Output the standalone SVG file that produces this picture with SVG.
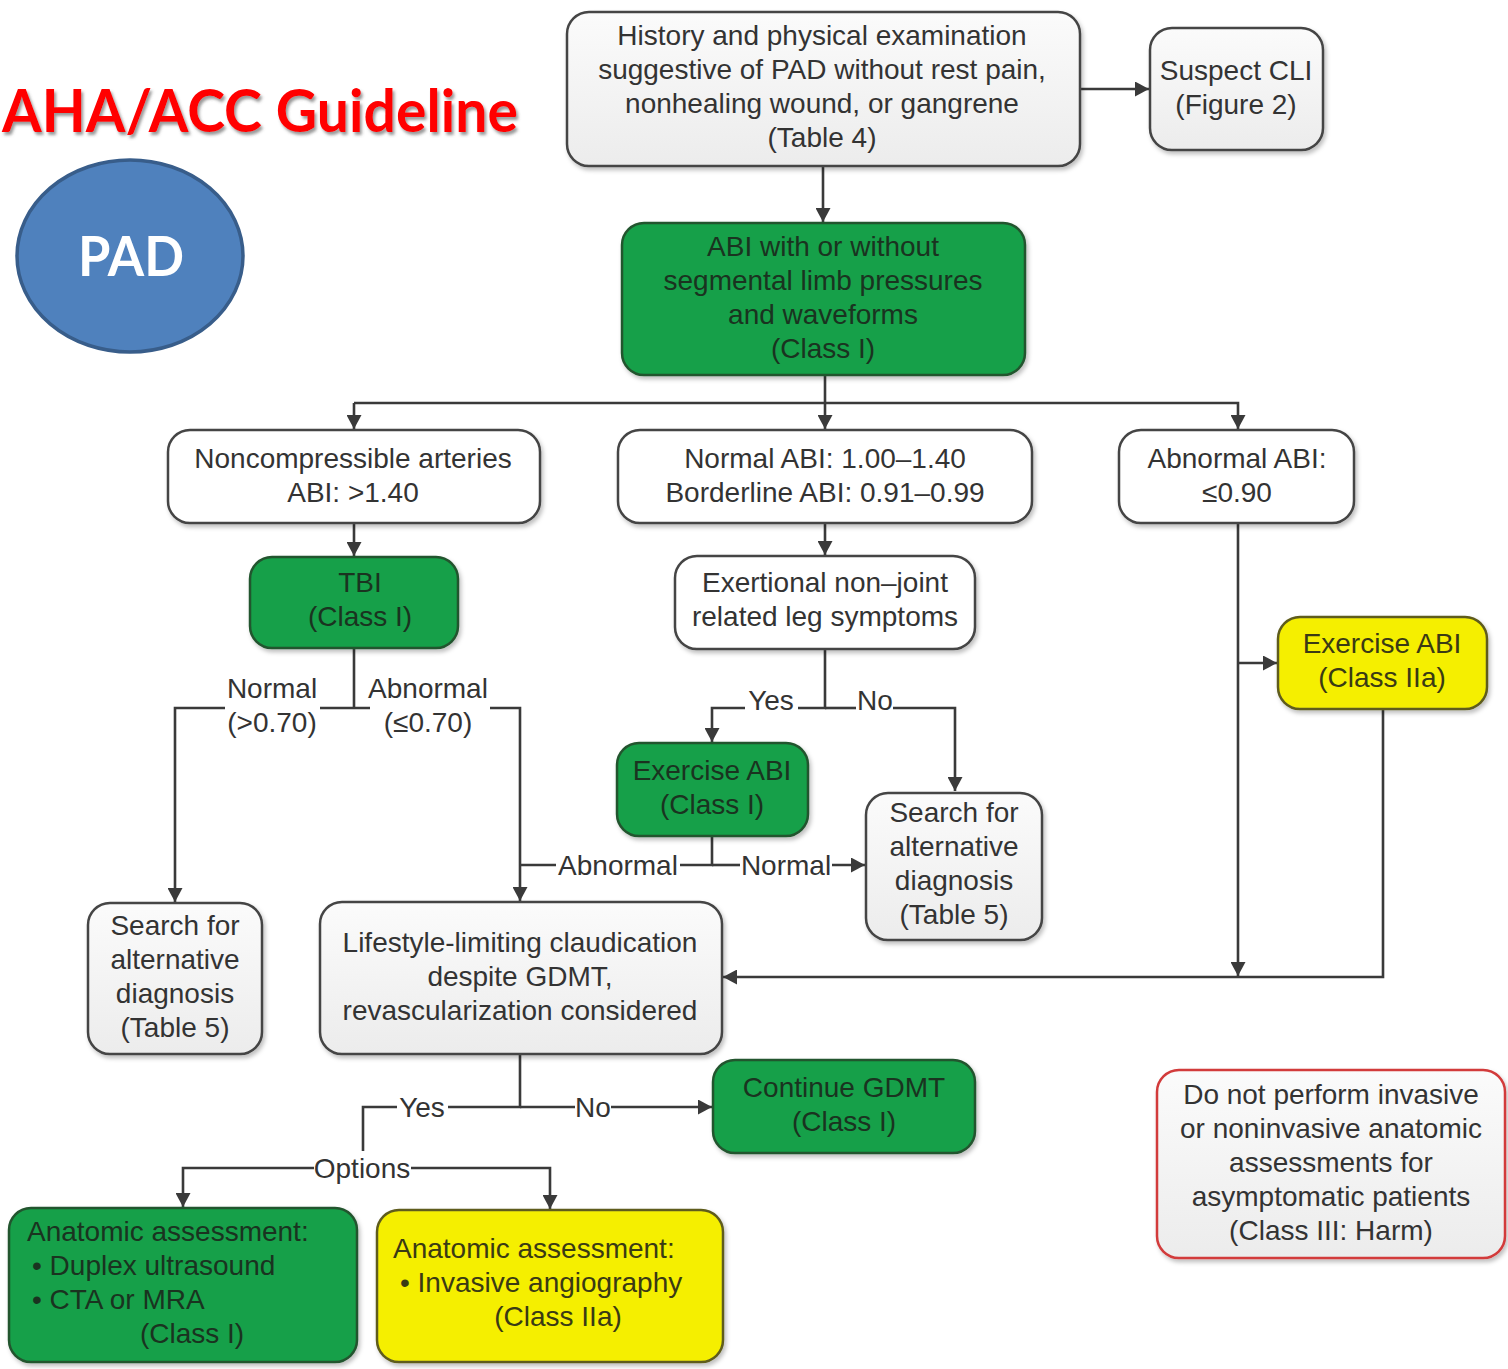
<svg xmlns="http://www.w3.org/2000/svg" width="1508" height="1369" viewBox="0 0 1508 1369">
  <style>
    .t { font-family: "Liberation Sans", Arial, sans-serif; font-size: 28px; fill: #333; text-anchor: middle; }
    .tl { font-family: "Liberation Sans", Arial, sans-serif; font-size: 28px; text-anchor: start; }
    .tg { fill: #1a3320; }
    .ty { fill: #3a3a14; }
    .lbl { font-family: "Liberation Sans", Arial, sans-serif; font-size: 28px; fill: #333; text-anchor: middle; }
    .box { stroke: #444; stroke-width: 2.5; filter: url(#shadow); }
    .white { fill: #ffffff; }
    .gray { fill: url(#grayGrad); }
    .green { fill: #15a048; stroke: #24542f; }
    .yellow { fill: #f5ef00; stroke: #5e5c1e; }
    .red { fill: url(#grayGrad); stroke: #d23a3a; }
    .conn path { fill: none; stroke: #3a3a3a; stroke-width: 2.6; }
    .arr { marker-end: url(#arrow); }
  </style>
  <defs>
    <linearGradient id="grayGrad" x1="0" y1="0" x2="0" y2="1">
      <stop offset="0" stop-color="#fbfbfb"/>
      <stop offset="1" stop-color="#ececec"/>
    </linearGradient>
    <filter id="shadow" x="-10%" y="-10%" width="120%" height="130%">
      <feDropShadow dx="2" dy="3" stdDeviation="2" flood-color="#000" flood-opacity="0.25"/>
    </filter>
    <filter id="titleShadow" x="-5%" y="-20%" width="110%" height="150%">
      <feDropShadow dx="2" dy="3" stdDeviation="1.5" flood-color="#555" flood-opacity="0.6"/>
    </filter>
    <marker id="arrow" markerUnits="userSpaceOnUse" markerWidth="15" markerHeight="15" refX="14" refY="7.5" orient="auto">
      <path d="M0,0 L14,7.5 L0,15 z" fill="#3a3a3a"/>
    </marker>
  </defs>

  <rect width="1508" height="1369" fill="#ffffff"/>

  <!-- heading and badge -->
  <g id="title">
    <text x="2" y="132" font-family="Lato, 'Open Sans', sans-serif" font-weight="700" font-size="60" fill="#ff0000" textLength="516" lengthAdjust="spacingAndGlyphs" filter="url(#titleShadow)">AHA/ACC Guideline</text>
  </g>
  <g id="pad-badge">
    <ellipse cx="130" cy="256" rx="113" ry="96" fill="#4f81bd" stroke="#385d8a" stroke-width="3.5"/>
    <text x="131" y="276" font-family="Lato, 'Open Sans', sans-serif" font-weight="700" font-size="56" fill="#ffffff" text-anchor="middle" textLength="106" lengthAdjust="spacingAndGlyphs">PAD</text>
  </g>

  <!-- connectors -->
  <g id="connectors" class="conn">
    <path class="arr" d="M1080,89 H1149"/>
    <path class="arr" d="M823,166 V222"/>
    <path class="arr" d="M825,375 V429"/>
    <path class="arr" d="M354,403 V429"/>
    <path class="arr" d="M354,403 H1238 V429"/>
    <path class="arr" d="M354,523 V556"/>
    <!-- TBI outcomes -->
    <path d="M354,648 V708 M320,708 H370"/>
    <path class="arr" d="M225,708 H175 V902"/>
    <path class="arr" d="M490,708 H520 V901"/>
    <!-- normal / borderline ABI -->
    <path class="arr" d="M825,523 V555"/>
    <path d="M825,649 V708 H798"/>
    <path class="arr" d="M745,708 H712 V742"/>
    <path d="M825,708 H856"/>
    <path class="arr" d="M893,708 H955 V791"/>
    <path d="M712,836 V865 H680 M556,865 H520"/>
    <path d="M712,865 H740"/>
    <path class="arr" d="M832,865 H865"/>
    <!-- abnormal ABI -->
    <path class="arr" d="M1238,523 V976"/>
    <path class="arr" d="M1238,663 H1277"/>
    <path class="arr" d="M1383,709 V977 H723"/>
    <!-- lifestyle-limiting claudication -->
    <path d="M520,1054 V1107 H448"/>
    <path d="M397,1107 H363 V1151"/>
    <path d="M520,1107 H575"/>
    <path class="arr" d="M611,1107 H712"/>
    <path class="arr" d="M314,1168 H183 V1207"/>
    <path class="arr" d="M411,1168 H550 V1209"/>
  </g>

  <!-- connector labels -->
  <g id="connector-labels">
    <text class="lbl" x="272" y="698">Normal</text>
    <text class="lbl" x="272" y="732">(&gt;0.70)</text>
    <text class="lbl" x="428" y="698">Abnormal</text>
    <text class="lbl" x="428" y="732">(≤0.70)</text>
    <text class="lbl" x="771" y="710">Yes</text>
    <text class="lbl" x="875" y="710">No</text>
    <text class="lbl" x="618" y="875">Abnormal</text>
    <text class="lbl" x="786" y="875">Normal</text>
    <text class="lbl" x="422" y="1117">Yes</text>
    <text class="lbl" x="593" y="1117">No</text>
    <text class="lbl" x="362" y="1178">Options</text>
  </g>

  <!-- nodes -->
  <g id="history">
    <rect class="box gray" x="567" y="12" width="513" height="154" rx="22"/>
    <text class="t" x="822" y="45">History and physical examination</text>
    <text class="t" x="822" y="79">suggestive of PAD without rest pain,</text>
    <text class="t" x="822" y="113">nonhealing wound, or gangrene</text>
    <text class="t" x="822" y="147">(Table 4)</text>
  </g>
  <g id="suspect-cli">
    <rect class="box gray" x="1150" y="28" width="173" height="122" rx="22"/>
    <text class="t" x="1236" y="80">Suspect CLI</text>
    <text class="t" x="1236" y="114">(Figure 2)</text>
  </g>
  <g id="abi">
    <rect class="box green" x="622" y="223" width="403" height="152" rx="22"/>
    <text class="t tg" x="823" y="256">ABI with or without</text>
    <text class="t tg" x="823" y="290">segmental limb pressures</text>
    <text class="t tg" x="823" y="324">and waveforms</text>
    <text class="t tg" x="823" y="358">(Class I)</text>
  </g>
  <g id="noncompressible">
    <rect class="box white" x="168" y="430" width="372" height="93" rx="22"/>
    <text class="t" x="353" y="468">Noncompressible arteries</text>
    <text class="t" x="353" y="502">ABI: &gt;1.40</text>
  </g>
  <g id="normal-abi">
    <rect class="box white" x="618" y="430" width="414" height="93" rx="22"/>
    <text class="t" x="825" y="468">Normal ABI: 1.00–1.40</text>
    <text class="t" x="825" y="502">Borderline ABI: 0.91–0.99</text>
  </g>
  <g id="abnormal-abi">
    <rect class="box white" x="1119" y="430" width="235" height="93" rx="22"/>
    <text class="t" x="1237" y="468">Abnormal ABI:</text>
    <text class="t" x="1237" y="502">≤0.90</text>
  </g>
  <g id="tbi">
    <rect class="box green" x="250" y="557" width="208" height="91" rx="22"/>
    <text class="t tg" x="360" y="592">TBI</text>
    <text class="t tg" x="360" y="626">(Class I)</text>
  </g>
  <g id="exertional">
    <rect class="box white" x="675" y="556" width="300" height="93" rx="22"/>
    <text class="t" x="825" y="592">Exertional non–joint</text>
    <text class="t" x="825" y="626">related leg symptoms</text>
  </g>
  <g id="exercise-abi-1">
    <rect class="box green" x="617" y="743" width="191" height="93" rx="22"/>
    <text class="t tg" x="712" y="780">Exercise ABI</text>
    <text class="t tg" x="712" y="814">(Class I)</text>
  </g>
  <g id="exercise-abi-2a">
    <rect class="box yellow" x="1278" y="617" width="209" height="92" rx="22"/>
    <text class="t ty" x="1382" y="653">Exercise ABI</text>
    <text class="t ty" x="1382" y="687">(Class IIa)</text>
  </g>
  <g id="search-alt-right">
    <rect class="box gray" x="866" y="793" width="176" height="147" rx="22"/>
    <text class="t" x="954" y="822">Search for</text>
    <text class="t" x="954" y="856">alternative</text>
    <text class="t" x="954" y="890">diagnosis</text>
    <text class="t" x="954" y="924">(Table 5)</text>
  </g>
  <g id="search-alt-left">
    <rect class="box gray" x="88" y="903" width="174" height="151" rx="22"/>
    <text class="t" x="175" y="935">Search for</text>
    <text class="t" x="175" y="969">alternative</text>
    <text class="t" x="175" y="1003">diagnosis</text>
    <text class="t" x="175" y="1037">(Table 5)</text>
  </g>
  <g id="lifestyle">
    <rect class="box gray" x="320" y="902" width="402" height="152" rx="22"/>
    <text class="t" x="520" y="952">Lifestyle-limiting claudication</text>
    <text class="t" x="520" y="986">despite GDMT,</text>
    <text class="t" x="520" y="1020">revascularization considered</text>
  </g>
  <g id="continue-gdmt">
    <rect class="box green" x="713" y="1060" width="262" height="93" rx="22"/>
    <text class="t tg" x="844" y="1097">Continue GDMT</text>
    <text class="t tg" x="844" y="1131">(Class I)</text>
  </g>
  <g id="do-not-perform">
    <rect class="box red" x="1157" y="1070" width="348" height="188" rx="22"/>
    <text class="t" x="1331" y="1104">Do not perform invasive</text>
    <text class="t" x="1331" y="1138">or noninvasive anatomic</text>
    <text class="t" x="1331" y="1172">assessments for</text>
    <text class="t" x="1331" y="1206">asymptomatic patients</text>
    <text class="t" x="1331" y="1240">(Class III: Harm)</text>
  </g>
  <g id="anatomic-noninvasive">
    <rect class="box green" x="9" y="1208" width="348" height="154" rx="22"/>
    <text class="tl tg" x="27" y="1241">Anatomic assessment:</text>
    <text class="tl tg" x="32" y="1275">• Duplex ultrasound</text>
    <text class="tl tg" x="32" y="1309">• CTA or MRA</text>
    <text class="t tg" x="192" y="1343">(Class I)</text>
  </g>
  <g id="anatomic-invasive">
    <rect class="box yellow" x="377" y="1210" width="346" height="152" rx="22"/>
    <text class="tl ty" x="393" y="1258">Anatomic assessment:</text>
    <text class="tl ty" x="400" y="1292">• Invasive angiography</text>
    <text class="t ty" x="558" y="1326">(Class IIa)</text>
  </g>
</svg>
